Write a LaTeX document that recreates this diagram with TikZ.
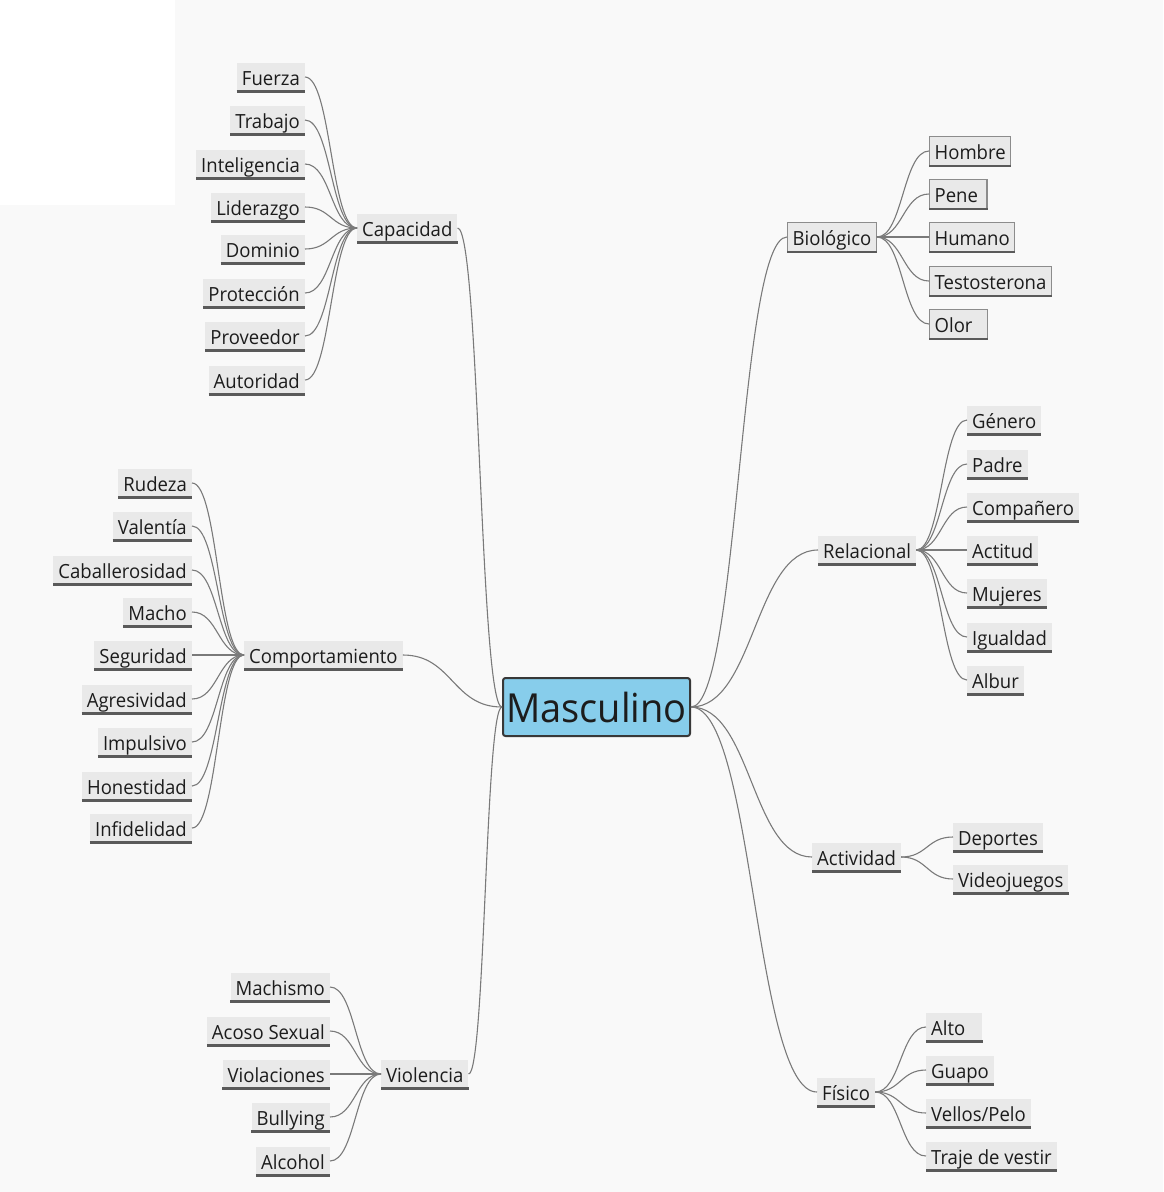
\documentclass[tikz,border=0pt]{standalone}
\usepackage{fontspec}
\setmainfont{Open Sans}[FakeStretch=0.95]
\usetikzlibrary{calc}
\definecolor{bggray}{HTML}{F9F9F9}
\definecolor{boxfill}{HTML}{E9E9E9}
\definecolor{uline}{HTML}{5A5A5A}
\definecolor{txt}{HTML}{1C1C1C}
\definecolor{wire}{HTML}{7A7A7A}
\definecolor{rootfill}{HTML}{87CDEB}
\definecolor{frame}{HTML}{8C8C8C}

% curved connector from the east side of #1 to the west side of #2
\newcommand\linkto[2]{%
  \draw[conn] let \p1=(#1.east), \p2=(#2.west) in
    (\p1) .. controls ({(\x1+\x2)/2},\y1) and ({(\x1+\x2)/2},\y2) .. (\p2);}

\tikzset{
  conn/.style={draw=wire, line width=1.1pt},
  topic/.style={fill=boxfill, inner xsep=5pt, inner ysep=0pt, yshift=1pt,
    minimum height=29pt, text height=18pt, text depth=2pt, text=txt,
    font=\fontsize{19.5}{22}\selectfont,
    append after command={(\tikzlastnode.south west) edge[draw=uline, line width=2.6pt] (\tikzlastnode.south east)}},
  boxed/.style={topic, draw=frame, line width=1.3pt},
  rootbox/.style={fill=rootfill, draw=black!78, line width=2pt, rounded corners=2.5pt,
    minimum width=187pt, minimum height=58pt, inner sep=0pt, text=txt,
    font=\fontsize{40}{44}\selectfont},
}

\begin{document}
\begin{tikzpicture}[x=1pt,y=-1pt]
\fill[bggray] (0,0) rectangle (1163,1192);
\fill[white] (0,0) rectangle (175,205);
\useasboundingbox (0,0) rectangle (1163,1192);

% central topic
\node[rootbox] (root) at (596.5,707) {Masculino};

% main branches
\node[topic, anchor=west] (cap) at (357,229) {Capacidad};
\node[topic, anchor=west] (com) at (244,656) {Comportamiento};
\node[topic, anchor=west] (vio) at (381,1075) {Violencia};
\node[boxed, anchor=west] (bio) at (787,238) {Biológico};
\node[topic, anchor=west] (rel) at (818,551) {Relacional};
\node[topic, anchor=west] (act) at (812,858) {Actividad};
\node[topic, anchor=west] (fis) at (817,1093) {Físico};

\foreach \m in {cap,com,vio} {\linkto{\m}{root}}
\foreach \m in {bio,rel,act,fis} {\linkto{root}{\m}}

% Capacidad
\foreach \t/\y [count=\i] in {Fuerza/78,Trabajo/121,Inteligencia/165,Liderazgo/208,
    Dominio/250,Protección/294,Proveedor/337,Autoridad/381} {
  \node[topic, anchor=east] (cap\i) at (305,\y) {\t};
  \linkto{cap\i}{cap}
}

% Comportamiento
\foreach \t/\y [count=\i] in {Rudeza/484,Valentía/527,Caballerosidad/571,Macho/613,
    Seguridad/656,Agresividad/700,Impulsivo/743,Honestidad/787,Infidelidad/829} {
  \node[topic, anchor=east] (com\i) at (192,\y) {\t};
  \linkto{com\i}{com}
}

% Violencia
\foreach \t/\y [count=\i] in {Machismo/988,Acoso Sexual/1032,Violaciones/1075,
    Bullying/1118,Alcohol/1162} {
  \node[topic, anchor=east] (vio\i) at (330,\y) {\t};
  \linkto{vio\i}{vio}
}

% Biológico (short labels keep some trailing room)
\foreach \t/\y/\pad [count=\i] in {Hombre/152/0,Pene/195/4,Humano/238/0,
    Testosterona/282/0,Olor/325/10} {
  \node[boxed, anchor=west] (bio\i) at (929,\y) {\t\hspace*{\pad pt}};
  \linkto{bio}{bio\i}
}

% Relacional
\foreach \t/\y [count=\i] in {Género/421,Padre/465,Compañero/508,Actitud/551,
    Mujeres/594,Igualdad/638,Albur/681} {
  \node[topic, anchor=west] (rel\i) at (967,\y) {\t};
  \linkto{rel}{rel\i}
}

% Actividad
\foreach \t/\y [count=\i] in {Deportes/838,Videojuegos/880} {
  \node[topic, anchor=west] (act\i) at (953,\y) {\t};
  \linkto{act}{act\i}
}

% Físico
\foreach \t/\y/\pad [count=\i] in {Alto/1028/12,Guapo/1071/0,{Vellos/Pelo}/1114/0,
    Traje de vestir/1157/0} {
  \node[topic, anchor=west] (fis\i) at (926,\y) {\t\hspace*{\pad pt}};
  \linkto{fis}{fis\i}
}
\end{tikzpicture}
\end{document}
